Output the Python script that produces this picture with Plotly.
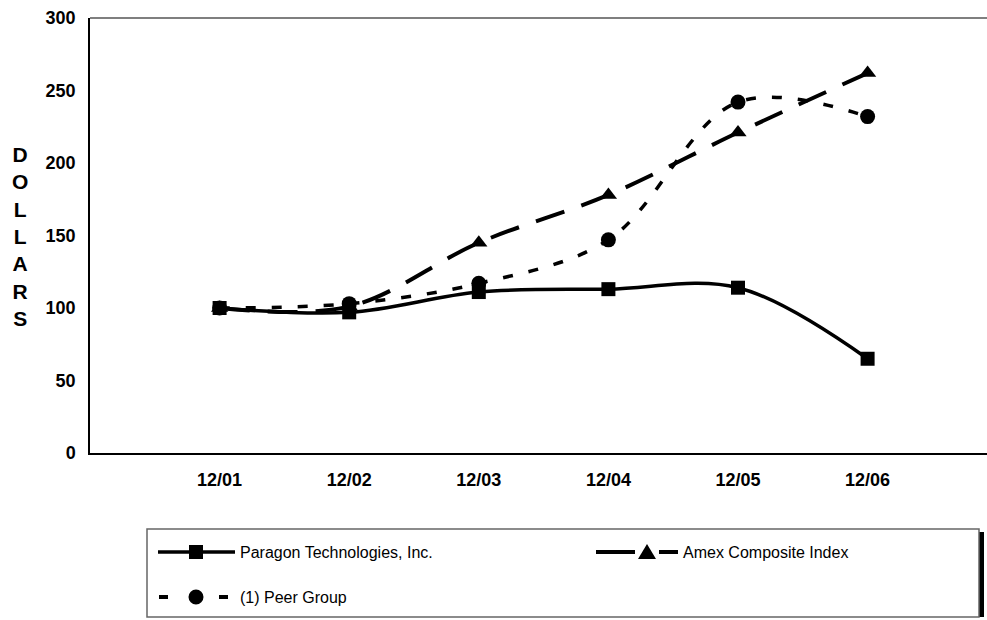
import plotly.graph_objects as go

categories = ["12/01", "12/02", "12/03", "12/04", "12/05", "12/06"]
paragon = [100, 97, 111, 113, 114, 65]
amex = [100, 101, 145, 178, 221, 262]
peer = [100, 103, 117, 147, 242, 232]
y_ticks = [0, 50, 100, 150, 200, 250, 300]

W, H = 987, 620
L, R, T, B = 90, 0, 18, 167
PW, PH = W - L - R, H - T - B

def px(x):
    return (x - L) / PW

def py(y):
    return (H - B - y) / PH

FONT = "Arial, Liberation Sans, sans-serif"
xpos = list(range(len(categories)))

fig = go.Figure()
fig.add_trace(go.Scatter(
    x=xpos, y=peer, mode="lines+markers", name="(1) Peer Group",
    line=dict(color="black", width=3.5, dash="10px,16px", shape="spline", smoothing=1),
    marker=dict(symbol="circle", size=15, color="black"), showlegend=False))
fig.add_trace(go.Scatter(
    x=xpos, y=amex, mode="lines+markers", name="Amex Composite Index",
    line=dict(color="black", width=4, dash="30px,18px", shape="spline", smoothing=1),
    marker=dict(symbol="triangle-up", size=15, color="black"), showlegend=False))
fig.add_trace(go.Scatter(
    x=xpos, y=paragon, mode="lines+markers", name="Paragon Technologies, Inc.",
    line=dict(color="black", width=3.5, shape="spline", smoothing=1),
    marker=dict(symbol="square", size=14, color="black"), showlegend=False))

shapes = []
annotations = []

# top border of plot area
shapes.append(dict(type="line", xref="paper", yref="paper", x0=0, x1=1, y0=1, y1=1,
                   line=dict(color="#555", width=1.5)))

# legend box + shadow
shapes.append(dict(type="rect", xref="paper", yref="paper", x0=px(979), x1=px(984),
                   y0=py(617), y1=py(532), fillcolor="black", line=dict(width=0)))
shapes.append(dict(type="rect", xref="paper", yref="paper", x0=px(147), x1=px(979),
                   y0=py(617), y1=py(529), line=dict(color="#666", width=1.5)))

def hline(x0, x1, y, w=4):
    shapes.append(dict(type="line", xref="paper", yref="paper", x0=px(x0), x1=px(x1),
                       y0=py(y), y1=py(y), line=dict(color="black", width=w)))

# Paragon legend symbol
hline(158, 235, 552, 3.5)
shapes.append(dict(type="rect", xref="paper", yref="paper", x0=px(189), x1=px(203),
                   y0=py(559), y1=py(545), fillcolor="black", line=dict(width=0)))
# Amex legend symbol
hline(596, 635, 552)
hline(659, 678, 552)
tri = f"M {px(638)} {py(559)} L {px(656)} {py(559)} L {px(647)} {py(544)} Z"
shapes.append(dict(type="path", xref="paper", yref="paper", path=tri,
                   fillcolor="black", line=dict(width=0)))
# Peer legend symbol
hline(159, 168, 597)
hline(219, 228, 597)
shapes.append(dict(type="circle", xref="paper", yref="paper", x0=px(188.5), x1=px(203.5),
                   y0=py(604.5), y1=py(589.5), fillcolor="black", line=dict(width=0)))

legend_font = dict(family=FONT, size=16, color="black")
for text, x, y in [("Paragon Technologies, Inc.", 238, 552),
                   ("Amex Composite Index", 681, 552),
                   ("(1) Peer Group", 238, 597)]:
    annotations.append(dict(text=text, xref="paper", yref="paper", x=px(x), y=py(y),
                            xanchor="left", yanchor="middle", showarrow=False, font=legend_font))

annotations.append(dict(text="D<br>O<br>L<br>L<br>A<br>R<br>S", xref="paper", yref="paper",
                        x=px(20), y=py(236.5), xanchor="center", yanchor="middle",
                        showarrow=False, align="center",
                        font=dict(family=FONT, size=21, color="black", weight="bold")))

fig.update_layout(
    width=W, height=H,
    margin=dict(l=L, r=R, t=T, b=B, pad=0),
    paper_bgcolor="white", plot_bgcolor="white",
    showlegend=False,
    shapes=shapes, annotations=annotations,
    xaxis=dict(range=[-1, -1 + PW / 129.6], tickmode="array", tickvals=xpos, ticktext=categories,
               showgrid=False, zeroline=False, showline=True, linecolor="black", linewidth=2,
               ticks="", ticklabelstandoff=9,
               tickfont=dict(family=FONT, size=18, color="black", weight="bold")),
    yaxis=dict(range=[0, 300], tickmode="array", tickvals=y_ticks,
               showgrid=False, zeroline=False, showline=True, linecolor="black", linewidth=1.5,
               ticks="", ticklabelstandoff=9,
               tickfont=dict(family=FONT, size=18, color="black", weight="bold")),
)

fig.write_html(
    "out.html",
    config={"displayModeBar": False},
    post_script="document.body.style.margin='0';document.body.style.overflow='hidden';",
)
